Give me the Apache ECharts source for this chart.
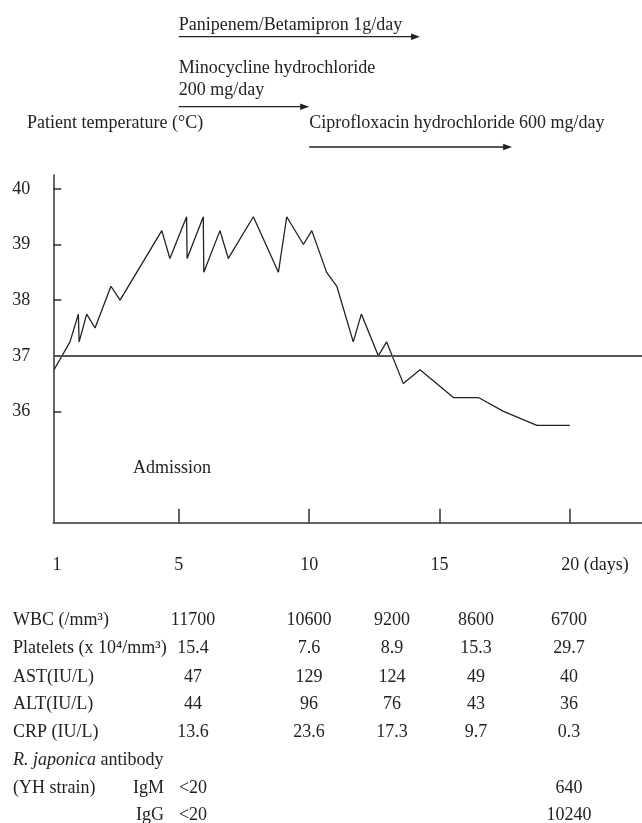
<!DOCTYPE html>
<html>
<head>
<meta charset="utf-8">
<script src="https://cdn.jsdelivr.net/npm/echarts@6/dist/echarts.min.js"></script>
<style>
  html, body { margin: 0; padding: 0; background: #fff; }
  #chart { width: 642px; height: 823px; }
</style>
</head>
<body>
<div id="chart"></div>
<script>
// temperature curve (day, °C)
const days = [0.22, 0.83, 1.15, 1.18, 1.47, 1.79, 2.40, 2.75, 4.35, 4.66, 5.30, 5.32,
  5.94, 5.96, 6.58, 6.90, 7.86, 8.82, 9.14, 9.78, 10.10, 10.67, 11.06,
  11.69, 12.00, 12.65, 12.97, 13.61, 14.25, 15.53, 16.49, 17.45, 18.73, 20.00]
const temps = [36.75, 37.25, 37.75, 37.25, 37.75, 37.5, 38.25, 38.0, 39.25, 38.75, 39.5, 38.75,
  39.5, 38.5, 39.25, 38.75, 39.5, 38.5, 39.5, 39.0, 39.25, 38.5, 38.25,
  37.25, 37.75, 37.0, 37.25, 36.5, 36.75, 36.25, 36.25, 36.0, 35.75, 35.75]

// axis ticks
const xTickDays = [5, 10, 15, 20]
const xLabelDays = [0.33, 5, 10, 15, 20]
const xLabelText = ['1', '5', '10', '15', '20 (days)']
const yTicks = [36, 37, 38, 39, 40]
const normalTemp = 37

// drugs (start / end day of each arrow)
const drugLabels = [
  ['Panipenem/Betamipron 1g/day'],
  ['Minocycline hydrochloride', '200 mg/day'],
  ['Ciprofloxacin hydrochloride 600 mg/day'],
]
const drugStart = [5, 5, 10]
const drugEnd = [14.25, 10.0, 17.78]

// lab table
const rowLabels = ['WBC (/mm³)', 'Platelets (x 10⁴/mm³)', 'AST(IU/L)', 'ALT(IU/L)', 'CRP (IU/L)']
const wbc = ['11700', '10600', '9200', '8600', '6700']
const platelets = ['15.4', '7.6', '8.9', '15.3', '29.7']
const ast = ['47', '129', '124', '49', '40']
const alt = ['44', '96', '76', '43', '36']
const crp = ['13.6', '23.6', '17.3', '9.7', '0.3']
const igm = ['<20', '', '', '', '640']
const igg = ['<20', '', '', '', '10240']

const FONT = '"Liberation Serif", "Times New Roman", serif'
const FS = 18
const INK = '#222'

const chart = echarts.init(document.getElementById('chart'))

const option = {
  animation: false,
  backgroundColor: '#fff',
  grid: { left: 53.3, right: 0, top: 175, bottom: 300.3, outerBoundsMode: 'none' },
  xAxis: {
    type: 'value',
    min: 0.19,
    max: 22.76,
    splitLine: { show: false },
    axisLine: { lineStyle: { color: '#333', width: 1.5 } },
    axisTick: { inside: true, length: 14, customValues: xTickDays, lineStyle: { color: '#333', width: 1.5 } },
    axisLabel: {
      customValues: xLabelDays,
      margin: 34,
      color: INK,
      fontFamily: FONT,
      fontSize: FS,
      formatter: (v) => {
        const i = xLabelDays.indexOf(v)
        const t = i >= 0 ? xLabelText[i] : ''
        return i === xLabelDays.length - 1 ? '{pad|}' + t : t
      },
      rich: { pad: { width: 50 } },
    },
  },
  yAxis: {
    type: 'value',
    min: 34,
    max: 40.25,
    splitLine: { show: false },
    axisLine: { show: true, lineStyle: { color: '#333', width: 1.5 } },
    axisTick: { show: true, inside: true, length: 8, customValues: yTicks, lineStyle: { color: '#333', width: 1.5 } },
    axisLabel: { customValues: yTicks, margin: 23, color: INK, fontFamily: FONT, fontSize: FS },
  },
  series: [
    {
      type: 'line',
      data: days.map((d, i) => [d, temps[i]]),
      symbol: 'none',
      lineStyle: { color: INK, width: 1.3 },
      markLine: {
        silent: true,
        symbol: 'none',
        label: { show: false },
        lineStyle: { color: '#555', width: 2, type: 'solid' },
        data: [{ yAxis: normalTemp }],
      },
    },
  ],
}
chart.setOption(option)

// annotations: drug arrows, captions, table
const txt = (text, x, y, align, extra) => ({
  type: 'text',
  x, y,
  style: Object.assign({
    text, fill: INK, font: FS + 'px ' + FONT,
    align: align || 'left', verticalAlign: 'middle',
  }, extra || {}),
})

const graphic = []
const textY = [[25], [68, 90], [123]]
const arrowY = [36.7, 106.7, 147]
drugLabels.forEach((lines, k) => {
  const x0 = chart.convertToPixel({ xAxisIndex: 0 }, drugStart[k])
  const x1 = chart.convertToPixel({ xAxisIndex: 0 }, drugEnd[k])
  lines.forEach((l, j) => graphic.push(txt(l, x0, textY[k][j])))
  const y = arrowY[k]
  graphic.push({ type: 'line', shape: { x1: x0, y1: y, x2: x1 - 6, y2: y }, style: { stroke: INK, lineWidth: 1.3 } })
  graphic.push({ type: 'polygon', shape: { points: [[x1, y], [x1 - 9, y - 3.2], [x1 - 9, y + 3.2]] }, style: { fill: INK } })
})

graphic.push(txt('Patient temperature (°C)', 27, 123))
graphic.push(txt('Admission', 133, 468))

// table
const colX = [193, 309, 392, 476, 569]
const rowY = [620, 648, 677, 704, 732]
const rows = [wbc, platelets, ast, alt, crp]
rows.forEach((vals, r) => {
  graphic.push(txt(rowLabels[r], 13, rowY[r]))
  vals.forEach((v, c) => graphic.push(txt(v, colX[c], rowY[r], 'center')))
})
graphic.push(txt('{i|R. japonica} antibody', 13, 760, 'left', {
  rich: { i: { fontStyle: 'italic', fontFamily: FONT, fontSize: FS, fill: INK } },
}))
graphic.push(txt('(YH strain)', 13, 788))
graphic.push(txt('IgM', 164, 788, 'right'))
graphic.push(txt('IgG', 164, 815, 'right'))
igm.forEach((v, c) => v && graphic.push(txt(v, colX[c], 788, 'center')))
igg.forEach((v, c) => v && graphic.push(txt(v, colX[c], 815, 'center')))

chart.setOption({ graphic })
</script>
</body>
</html>
